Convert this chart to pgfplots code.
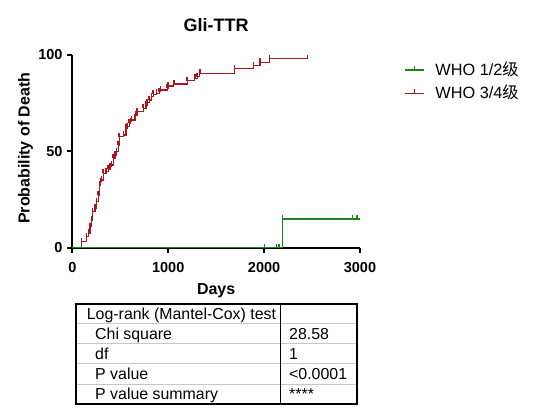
\documentclass[border=0pt]{standalone}
\usepackage{fontspec}
\setmainfont{Liberation Sans}
\newfontfamily\cjk{Noto Sans CJK SC}
\usepackage{pgfplots}
\pgfplotsset{compat=1.18}

\definecolor{kmred}{RGB}{170,22,28}
\definecolor{kmgreen}{RGB}{28,132,28}

\newcommand\tickfont{\fontsize{14.5bp}{17bp}\selectfont\bfseries}
\newcommand\labfont{\fontsize{16bp}{19bp}\selectfont\bfseries}
\newcommand\titfont{\fontsize{18bp}{21bp}\selectfont\bfseries}
\newcommand\legfont{\fontsize{16.3bp}{19bp}\selectfont}
\newcommand\tabfont{\fontsize{15.9bp}{18bp}\selectfont}

% censor tick: short vertical line pointing up
\pgfdeclareplotmark{uptick}{%
  \pgfpathmoveto{\pgfqpoint{0pt}{0pt}}%
  \pgfpathlineto{\pgfqpoint{0pt}{\pgfplotmarksize}}%
  \pgfusepathqstroke}

\begin{document}
\begin{tikzpicture}
\path[use as bounding box] (-72.3bp,-169.3bp) rectangle (460.7bp,247.7bp);
\begin{axis}[
  anchor=origin, at={(0,0)},
  scale only axis, width=287.7bp, height=192.7bp,
  xmin=0, xmax=3000, ymin=0, ymax=100,
  axis x line=bottom, axis y line=left,
  axis line style={-, line width=2bp, black},
  xtick={0,1000,2000,3000}, ytick={0,50,100},
  tick align=outside, major tick length=5bp,
  tick style={line width=2bp, black},
  clip=false,
  /pgf/number format/assume math mode=true,
  /pgf/number format/1000 sep={},
  ticklabel style={font=\tickfont},
  xticklabel style={inner sep=0pt, anchor=north, text height=10.4bp, text depth=0pt, yshift=-9bp},
  yticklabel style={inner sep=0pt, anchor=east, xshift=-4.6bp},
  every axis title/.style={at={(axis description cs:0.5,1.157)}, anchor=center,
    inner sep=0pt, text height=12.9bp, text depth=0pt, font=\titfont},
  every axis x label/.style={at={(axis description cs:0.5,-0.2143)}, anchor=center,
    inner sep=0pt, text height=11.5bp, text depth=0pt, font=\labfont},
  every axis y label/.style={at={(axis description cs:-0.168,0.516)}, anchor=center, rotate=90,
    inner sep=0pt, text height=11.5bp, text depth=0pt, font=\labfont},
  title={Gli-TTR},
  xlabel={Days},
  ylabel={Probability of Death},
  reverse legend,
  legend image code/.code={
    \draw[#1] (0bp,0bp) -- (19bp,0bp);
    \draw[#1] (9.5bp,0bp) -- (9.5bp,4bp);
  },
  legend style={draw=none, fill=none, at={(axis description cs:1.153,0.954)}, anchor=north west,
    inner sep=0pt, row sep=11.5bp, column sep=11bp,
    nodes={inner sep=0pt, font=\legfont, text height=11.7bp, text depth=0pt}},
  legend cell align=left,
]
\addplot[const plot, color=kmred, line width=1.2bp, mark=uptick, mark size=4bp,
  mark repeat=1, mark phase=2, mark options={solid, line width=1.6bp}] table {
0 0
98 3.1
150 5.7
167 7.5
184 10.9
202 14.4
212 18.7
236 20.4
254 23.9
271 27.3
282 32.5
295 34.3
306 35.1
323 38.6
351 39.5
375 40.7
393 42.0
410 42.9
427 46.4
445 48.1
462 49.8
479 53.3
490 57.6
532 58.5
559 62.0
573 62.8
594 64.5
608 65.4
619 66.3
653 67.1
663 68.9
677 70.6
740 72.3
768 74.1
781 75.2
802 76.6
827 78.4
844 79.6
879 80.1
906 81.0
921 81.8
990 82.7
1000 83.9
1059 84.9
1198 86.7
1278 87.9
1302 88.7
1330 90.5
1692 92.9
1889 94.5
1958 96.3
2055 98.1
2452 98.1
};
\addlegendentry{WHO 3/4{\cjk 级}}
\addplot[const plot, color=kmgreen, line width=1.2bp, mark=uptick, mark size=4bp,
  mark indices={2,3,4,5,6,7}, mark options={solid, line width=1.6bp}] table {
0 0
2006 0
2129 0
2153 0
2191 14.9
2920 14.9
2969 14.9
2997 14.9
};
\addlegendentry{WHO 1/2{\cjk 级}}
\end{axis}

% log-rank test table
\begin{scope}[every node/.style={anchor=west, inner sep=0pt, text height=11.4bp, text depth=0pt, font=\tabfont}]
\draw[line width=0.8bp, black!22]
  (3.5bp,-75.6bp) -- (284.7bp,-75.6bp)
  (3.5bp,-95.8bp) -- (284.7bp,-95.8bp)
  (3.5bp,-116.0bp) -- (284.7bp,-116.0bp)
  (3.5bp,-136.2bp) -- (284.7bp,-136.2bp);
\draw[line width=1.8bp] (3.5bp,-56.0bp) rectangle (284.7bp,-156.3bp);
\draw[line width=1.8bp] (208.2bp,-56.0bp) -- (208.2bp,-156.3bp);
\node at (14.4bp,-65.8bp) {Log-rank (Mantel-Cox) test};
\node at (22.7bp,-85.8bp) {Chi square};
\node at (22.7bp,-106.0bp) {df};
\node at (22.7bp,-126.2bp) {P value};
\node at (22.7bp,-146.3bp) {P value summary};
\node at (216.7bp,-85.8bp) {28.58};
\node at (216.7bp,-106.0bp) {1};
\node at (216.7bp,-126.2bp) {<0.0001};
\node at (216.7bp,-146.3bp) {****};
\end{scope}
\end{tikzpicture}
\end{document}
